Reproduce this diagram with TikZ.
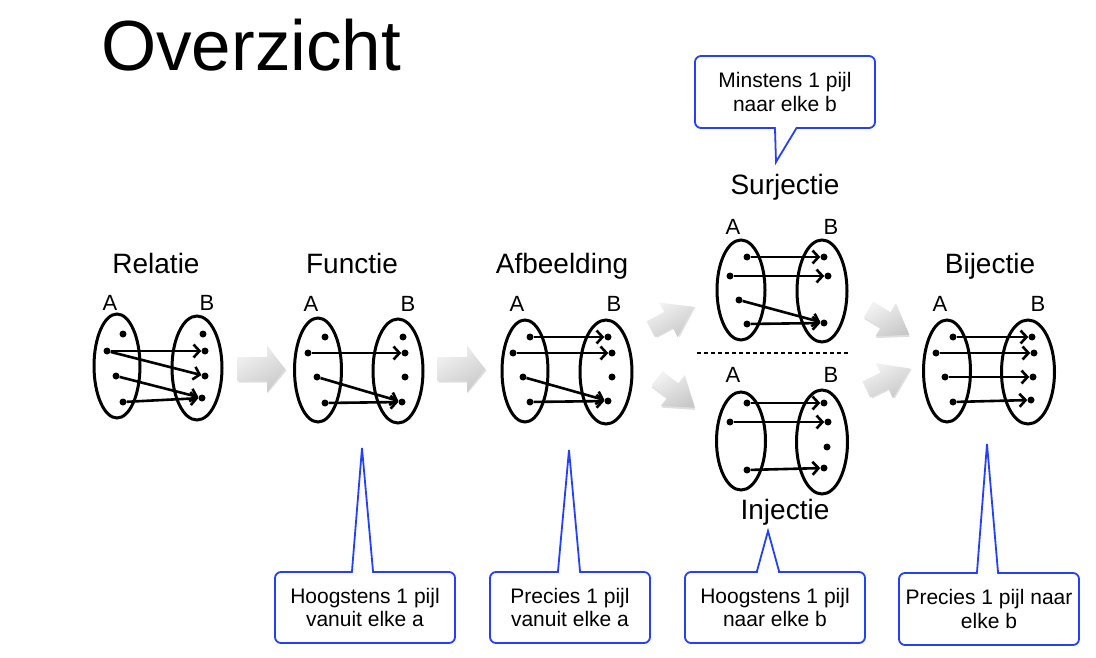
\documentclass[tikz,border=0pt]{standalone}
\usepackage{fontspec}
\setmainfont{Liberation Sans}
\usetikzlibrary{shapes.geometric,arrows.meta}
\definecolor{callblue}{RGB}{35,65,250}
\tikzset{
  setoval/.style={draw, ellipse, line width=3pt, inner sep=0pt},
  elem/.style={circle, fill=black, inner sep=0pt, minimum size=7pt},
  maparrow/.style={line width=2.6pt, -{Straight Barb[length=6pt,width=13pt]}},
  bubble/.style={draw=callblue, line width=1.8pt, fill=white, rounded corners=6pt,
    align=center, font=\fontsize{21}{23.5}\selectfont, inner sep=0pt},
  pointer/.style={draw=callblue, line width=1.8pt, line join=miter},
  kind/.style={font=\fontsize{28}{30}\selectfont, anchor=base, inner sep=0pt},
  setname/.style={font=\fontsize{22}{23}\selectfont, anchor=base, inner sep=0pt},
  greyfill/.style={top color=gray!10, bottom color=gray!42, shading angle=30},
  blockarrow/.pic={
    \fill[gray!55, opacity=.45] (-22.5pt,10.5pt) -- (6.5pt,10.5pt) -- (6.5pt,21.5pt) -- (25.5pt,-1.5pt)
      -- (6.5pt,-24.5pt) -- (6.5pt,-13.5pt) -- (-22.5pt,-13.5pt) -- cycle;
    \shade[greyfill] (-24pt,12pt) -- (6pt,12pt) -- (6pt,23.5pt) -- (24pt,0pt)
      -- (6pt,-23.5pt) -- (6pt,-12pt) -- (-24pt,-12pt) -- cycle;
  },
  slantarrow/.pic={
    \fill[gray!55, opacity=.45] (-22.5pt,7.5pt) -- (-2.5pt,7.5pt) -- (-2.5pt,17.5pt) -- (25.5pt,-1.5pt)
      -- (-2.5pt,-20.5pt) -- (-2.5pt,-10.5pt) -- (-22.5pt,-10.5pt) -- cycle;
    \shade[greyfill] (-24pt,9pt) -- (-4pt,9pt) -- (-4pt,19.5pt) -- (24pt,0pt)
      -- (-4pt,-19.5pt) -- (-4pt,-9pt) -- (-24pt,-9pt) -- cycle;
  }
}
\begin{document}
\begin{tikzpicture}[x=1pt,y=-1pt]
\useasboundingbox (0,0) rectangle (1096,658);
\fill[white] (0,0) rectangle (1096,658);

% title
\node[font=\fontsize{71}{72}\selectfont, anchor=base west, inner sep=0pt] (title) at (101,71) {Overzicht};

% ---------- Relatie ----------
\node[kind] (kRel) at (156,273) {Relatie};
\node[setname] (aRel) at (110,310) {A};
\node[setname] (bRel) at (207,310) {B};
\node[setoval, minimum width=46pt, minimum height=104pt] (rA) at (117,366) {};
\node[setoval, minimum width=50pt, minimum height=104pt] (rB) at (197,368) {};
\node[elem] (ra1) at (123,334) {};
\node[elem] (ra2) at (107,351) {};
\node[elem] (ra3) at (116,376) {};
\node[elem] (ra4) at (123,402) {};
\node[elem] (rb1) at (203,334) {};
\node[elem] (rb2) at (205,351) {};
\node[elem] (rb3) at (205,376) {};
\node[elem] (rb4) at (202,398) {};
\draw[maparrow] (ra2) -- (rb2);
\draw[maparrow] (ra2) -- (rb3);
\draw[maparrow] (ra3) -- (rb4);
\draw[maparrow] (ra4) -- (rb4);

% ---------- Functie ----------
\node[kind] (kFun) at (352,273) {Functie};
\node[setname] (aFun) at (311,311) {A};
\node[setname] (bFun) at (408,311) {B};
\node[setoval, minimum width=47pt, minimum height=104pt] (fA) at (318,370) {};
\node[setoval, minimum width=50pt, minimum height=104pt] (fB) at (398,371) {};
\node[elem] (fa1) at (325,337) {};
\node[elem] (fa2) at (308,353) {};
\node[elem] (fa3) at (317,377) {};
\node[elem] (fa4) at (325,403) {};
\node[elem] (fb1) at (403,337) {};
\node[elem] (fb2) at (405,353) {};
\node[elem] (fb3) at (405,377) {};
\node[elem] (fb4) at (402,402) {};
\draw[maparrow] (fa2) -- (fb2);
\draw[maparrow] (fa3) -- (fb4);
\draw[maparrow] (fa4) -- (fb4);

% ---------- Afbeelding ----------
\node[kind] (kAfb) at (562,273) {Afbeelding};
\node[setname] (aAfb) at (517,311) {A};
\node[setname] (bAfb) at (614,311) {B};
\node[setoval, minimum width=46pt, minimum height=102pt] (aA) at (525,371) {};
\node[setoval, minimum width=52pt, minimum height=104pt] (aB) at (606,372) {};
\node[elem] (aa1) at (530,337) {};
\node[elem] (aa2) at (513,353) {};
\node[elem] (aa3) at (523,377) {};
\node[elem] (aa4) at (530,402) {};
\node[elem] (ab1) at (608,337) {};
\node[elem] (ab2) at (612,353) {};
\node[elem] (ab3) at (612,377) {};
\node[elem] (ab4) at (608,401) {};
\draw[maparrow] (aa1) -- (ab1);
\draw[maparrow] (aa2) -- (ab2);
\draw[maparrow] (aa3) -- (ab4);
\draw[maparrow] (aa4) -- (ab4);

% ---------- Surjectie ----------
\node[kind] (kSur) at (785,195) {Surjectie};
\node[setname] (aSur) at (733,234) {A};
\node[setname] (bSur) at (831,234) {B};
\node[setoval, minimum width=48pt, minimum height=100pt] (sA) at (741,290) {};
\node[setoval, minimum width=50pt, minimum height=102pt] (sB) at (822,291) {};
\node[elem] (sa1) at (747,257) {};
\node[elem] (sa2) at (730,276) {};
\node[elem] (sa3) at (739,300) {};
\node[elem] (sa4) at (747,324) {};
\node[elem] (sb1) at (824,257) {};
\node[elem] (sb2) at (828,276) {};
\node[elem] (sb3) at (824,323) {};
\draw[maparrow] (sa1) -- (sb1);
\draw[maparrow] (sa2) -- (sb2);
\draw[maparrow] (sa3) -- (sb3);
\draw[maparrow] (sa4) -- (sb3);

% separator
\draw[line width=2.2pt, dash pattern=on 4pt off 3pt] (697,353) coordinate (sepL) -- (850,353) coordinate (sepR);

% ---------- Injectie ----------
\node[setname] (aInj) at (733,382) {A};
\node[setname] (bInj) at (831,382) {B};
\node[setoval, minimum width=49pt, minimum height=98pt] (iA) at (741,441) {};
\node[setoval, minimum width=51pt, minimum height=104pt] (iB) at (822,442) {};
\node[elem] (ia1) at (747,403) {};
\node[elem] (ia2) at (730,422) {};
\node[elem] (ia3) at (747,470) {};
\node[elem] (ib1) at (824,403) {};
\node[elem] (ib2) at (828,422) {};
\node[elem] (ib3) at (827,447) {};
\node[elem] (ib4) at (824,468) {};
\draw[maparrow] (ia1) -- (ib1);
\draw[maparrow] (ia2) -- (ib2);
\draw[maparrow] (ia3) -- (ib4);
\node[kind] (kInj) at (785,519) {Injectie};

% ---------- Bijectie ----------
\node[kind] (kBij) at (990,273) {Bijectie};
\node[setname] (aBij) at (940,311) {A};
\node[setname] (bBij) at (1038,311) {B};
\node[setoval, minimum width=47pt, minimum height=102pt] (bA) at (947,371) {};
\node[setoval, minimum width=53pt, minimum height=104pt] (bB) at (1028,372) {};
\node[elem] (ba1) at (953,337) {};
\node[elem] (ba2) at (936,353) {};
\node[elem] (ba3) at (945,377) {};
\node[elem] (ba4) at (953,402) {};
\node[elem] (bb1) at (1032,337) {};
\node[elem] (bb2) at (1034,353) {};
\node[elem] (bb3) at (1033,377) {};
\node[elem] (bb4) at (1031,400) {};
\draw[maparrow] (ba1) -- (bb1);
\draw[maparrow] (ba2) -- (bb2);
\draw[maparrow] (ba3) -- (bb3);
\draw[maparrow] (ba4) -- (bb4);

% ---------- grey block arrows ----------
\pic at (261,369) {blockarrow};
\pic at (461,369) {blockarrow};
\pic[rotate=28] at (672,318) {slantarrow};
\pic[rotate=-38] at (676,393) {slantarrow};
\pic[rotate=-32] at (889,322) {slantarrow};
\pic[rotate=26] at (888,379) {slantarrow};

% ---------- callouts ----------
\node[bubble, minimum width=180pt, minimum height=72pt] (cMin) at (785,92) {Minstens 1 pijl\\naar elke b};
\coordinate (tMin) at (776,162);
\fill[white] ([xshift=-9.1pt,yshift=1.9pt]cMin.south) -- (tMin) -- ([xshift=10.9pt,yshift=1.9pt]cMin.south) -- cycle;
\draw[pointer] ([xshift=-10pt]cMin.south) -- (tMin) -- ([xshift=11pt]cMin.south);

\node[bubble, minimum width=180pt, minimum height=71pt] (cFun) at (365,607.5) {Hoogstens 1 pijl\\vanuit elke a};
\coordinate (tFun) at (362,448);
\fill[white] ([xshift=-12.1pt,yshift=-1.9pt]cFun.north) -- (tFun) -- ([xshift=7.1pt,yshift=-1.9pt]cFun.north) -- cycle;
\draw[pointer] ([xshift=-13pt]cFun.north) -- (tFun) -- ([xshift=8pt]cFun.north);

\node[bubble, minimum width=160pt, minimum height=71pt] (cAfb) at (570,607.5) {Precies 1 pijl\\vanuit elke a};
\coordinate (tAfb) at (569,450);
\fill[white] ([xshift=-11.1pt,yshift=-1.9pt]cAfb.north) -- (tAfb) -- ([xshift=9.1pt,yshift=-1.9pt]cAfb.north) -- cycle;
\draw[pointer] ([xshift=-12pt]cAfb.north) -- (tAfb) -- ([xshift=10pt]cAfb.north);

\node[bubble, minimum width=180pt, minimum height=71pt] (cInj) at (775,607.5) {Hoogstens 1 pijl\\naar elke b};
\coordinate (tInj) at (768,531);
\fill[white] ([xshift=-17.1pt,yshift=-1.9pt]cInj.north) -- (tInj) -- ([xshift=3.1pt,yshift=-1.9pt]cInj.north) -- cycle;
\draw[pointer] ([xshift=-18pt]cInj.north) -- (tInj) -- ([xshift=4pt]cInj.north);

\node[bubble, minimum width=180pt, minimum height=72pt] (cBij) at (989,609) {Precies 1 pijl naar\\elke b};
\coordinate (tBij) at (987,444);
\fill[white] ([xshift=-11.1pt,yshift=-1.9pt]cBij.north) -- (tBij) -- ([xshift=8.1pt,yshift=-1.9pt]cBij.north) -- cycle;
\draw[pointer] ([xshift=-12pt]cBij.north) -- (tBij) -- ([xshift=9pt]cBij.north);
\end{tikzpicture}
\end{document}
